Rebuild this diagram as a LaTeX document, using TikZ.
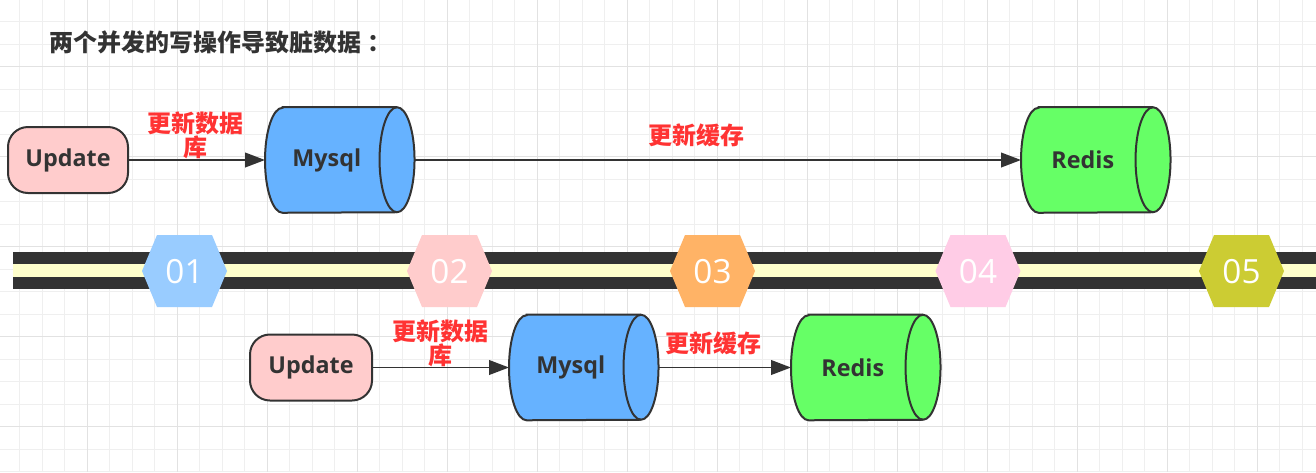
\documentclass[tikz,border=0pt]{standalone}
\usepackage{fontspec}
\setmainfont{Open Sans}
\newfontfamily\cjk{Noto Sans CJK SC}
\usetikzlibrary{arrows.meta,calc}
\definecolor{ink}{HTML}{333333}
\definecolor{lblred}{HTML}{FF3333}
\definecolor{updfill}{HTML}{FFCCCC}
\definecolor{mysqlfill}{HTML}{66B2FF}
\definecolor{redisfill}{HTML}{66FF66}
\definecolor{bandcream}{HTML}{FFFFCC}
\definecolor{hexA}{HTML}{99CCFF}
\definecolor{hexB}{HTML}{FFCCCC}
\definecolor{hexC}{HTML}{FFB366}
\definecolor{hexD}{HTML}{FFCCE6}
\definecolor{hexE}{HTML}{CCCC33}
\definecolor{gridminor}{HTML}{EFEFEF}
\definecolor{gridmajor}{HTML}{E2E2E2}
\pgfdeclarelayer{bg}
\pgfsetlayers{bg,main}
\newcommand\cylinderbody[2]{%
  \draw[draw=ink, line width=1.5pt, fill=#2]
    ([xshift=13.125pt]#1.north west) -- ([xshift=6.375pt]#1.north east)
    arc[start angle=90, end angle=-90, x radius=13.125pt, y radius=39.375pt]
    -- ([xshift=13.125pt]#1.south west)
    arc[start angle=270, end angle=90, x radius=13.125pt, y radius=39.375pt] -- cycle;
  \draw[ink, line width=1.5pt] ([xshift=6.375pt]#1.north east)
    arc[start angle=90, end angle=270, x radius=13.125pt, y radius=39.375pt];
}
\begin{document}
\begin{tikzpicture}[x=0.75pt,y=-0.75pt,
  upd/.style={draw=ink, line width=1.5pt, fill=updfill, rounded corners=15pt,
    minimum width=90pt, minimum height=49.5pt, inner sep=0pt,
    font=\bfseries\fontsize{17.5}{18}\selectfont, text=ink},
  cyl/.style={inner sep=0pt, minimum width=92.25pt, minimum height=78.75pt,
    font=\bfseries\fontsize{17.5}{18}\selectfont, text=ink},
  conn/.style={draw=ink, line width=1.4pt, -{Triangle[length=15pt,width=11pt]}},
  lbl/.style={text=lblred, font=\cjk\bfseries\fontsize{18}{18}\selectfont,
    align=center, inner sep=0pt},
  hexnum/.style={text=white, font=\fontsize{25}{25}\selectfont, inner sep=0pt}]
\useasboundingbox (0,0) rectangle (1316,472);
\begin{pgfonlayer}{bg}
  \fill[white] (0,0) rectangle (1316,472);
  \foreach \i in {0,...,58} \draw[gridminor, line width=0.75pt] ({19.5+22.5*\i},0) -- ({19.5+22.5*\i},472);
  \foreach \i in {0,...,20} \draw[gridminor, line width=0.75pt] (0,{21.7+22.5*\i}) -- (1316,{21.7+22.5*\i});
  \foreach \i in {0,...,13} \draw[gridmajor, line width=0.75pt] ({87+90*\i},0) -- ({87+90*\i},472);
  \foreach \i in {0,...,4} \draw[gridmajor, line width=0.75pt] (0,{66.7+90*\i}) -- (1316,{66.7+90*\i});
\end{pgfonlayer}

% title
\node[anchor=west, font=\cjk\bfseries\fontsize{18}{18}\selectfont, text=ink, inner sep=0pt]
  (title) at (49,42) {两个并发的写操作导致脏数据\kern5pt ：};

% timeline
\fill[ink] (13,252) rectangle (1316,289);
\fill[bandcream] (13,263.5) rectangle (1316,277);
\foreach \c/\col/\t in {184.5/hexA/01, 449.5/hexB/02, 712.5/hexC/03, 978/hexD/04, 1241.5/hexE/05}{
  \fill[\col] (\c-42.5,271) -- (\c-27.5,235) -- (\c+27.5,235) -- (\c+42.5,271)
    -- (\c+27.5,307) -- (\c-27.5,307) -- cycle;
  \node[hexnum] (h\t) at (\c,272) {\t};
}

% top row
\node[upd] (u1) at (68,160) {Update};
\node[cyl, anchor=west] (m1) at (265,160) {Mysql};
\node[cyl, anchor=west] (r1) at (1021,160) {Redis};
% bottom row
\node[upd, minimum width=91.5pt] (u2) at (311,367.5) {Update};
\node[cyl, anchor=west] (m2) at (509,367.5) {Mysql};
\node[cyl, anchor=west] (r2) at (791,367.5) {Redis};

\begin{pgfonlayer}{bg}
  \cylinderbody{m1}{mysqlfill}
  \cylinderbody{r1}{redisfill}
  \cylinderbody{m2}{mysqlfill}
  \cylinderbody{r2}{redisfill}
\end{pgfonlayer}

\draw[conn] (u1.east) -- (m1.west);
\draw[conn] ([xshift=19.5pt]m1.east) -- (r1.west);
\draw[conn] (u2.east) -- (m2.west);
\draw[conn] ([xshift=19.5pt]m2.east) -- (r2.west);

\node[lbl] (l1) at (195,135) {更新数据\\库};
\node[lbl] (l2) at (696,135) {更新缓存};
\node[lbl] (l3) at (440,343.5) {更新数据\\库};
\node[lbl] (l4) at (713,343) {更新缓存};
\end{tikzpicture}
\end{document}
